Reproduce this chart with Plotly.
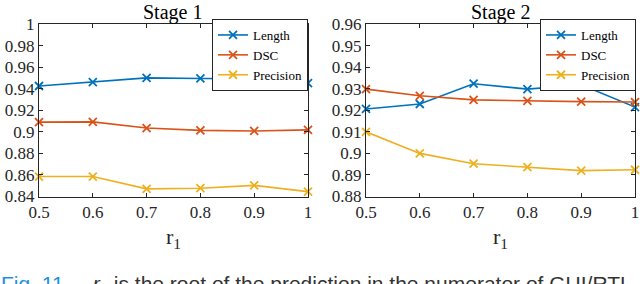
import plotly.graph_objects as go

r1 = [0.5, 0.6, 0.7, 0.8, 0.9, 1.0]

s1_length = [0.9425, 0.9460, 0.9500, 0.9495, 0.9492, 0.9452]
s1_dsc = [0.9090, 0.9092, 0.9035, 0.9013, 0.9008, 0.9018]
s1_precision = [0.8585, 0.8585, 0.8471, 0.8477, 0.8503, 0.8445]

s2_length = [0.9206, 0.9229, 0.9323, 0.9298, 0.9318, 0.9215]
s2_dsc = [0.9298, 0.9267, 0.9248, 0.9243, 0.9240, 0.9238]
s2_precision = [0.9100, 0.9000, 0.8952, 0.8936, 0.8920, 0.8924]

series_names = ["Length", "DSC", "Precision"]
colors = ["#0072BD", "#D95319", "#EDB120"]

SERIF = "Liberation Serif"

fig = go.Figure()

def add(xa, ya, ys, legend):
    for name, y, c in zip(series_names, ys, colors):
        fig.add_trace(go.Scatter(
            x=r1, y=y, name=name, mode="lines+markers",
            line=dict(color=c, width=1.6),
            marker=dict(symbol="x-thin", size=8, line=dict(color=c, width=1.8)),
            xaxis=xa, yaxis=ya, legend=legend, cliponaxis=False,
        ))

add("x", "y", [s1_length, s1_dsc, s1_precision], "legend")
add("x2", "y2", [s2_length, s2_dsc, s2_precision], "legend2")

W, H = 640, 284
ydom = [1 - 196.5 / H, 1 - 24 / H]
tickfont = dict(family=SERIF, size=17, color="#262626")
axcommon = dict(showgrid=False, zeroline=False, showline=True, linecolor="#262626",
                linewidth=1, mirror="ticks", ticks="inside", ticklen=4,
                tickcolor="#262626", tickfont=tickfont, automargin=False)
legfont = dict(family=SERIF, size=13, color="black")

fig.update_layout(
    template="none",
    width=W, height=H, margin=dict(l=0, r=0, t=0, b=0, pad=0),
    paper_bgcolor="white", plot_bgcolor="white",
    font=dict(family=SERIF, size=13, color="black"),
    xaxis=dict(domain=[39 / W, 308 / W], range=[0.5, 1.0], dtick=0.1, anchor="y", **axcommon),
    yaxis=dict(domain=ydom, range=[0.84, 1.0], dtick=0.02, anchor="x", **axcommon),
    xaxis2=dict(domain=[366 / W, 635 / W], range=[0.5, 1.0], dtick=0.1, anchor="y2", **axcommon),
    yaxis2=dict(domain=ydom, range=[0.88, 0.96], dtick=0.01, anchor="x2", **axcommon),
    legend=dict(x=308 / W, xanchor="right", y=1 - 19 / H, yanchor="top",
                bgcolor="white", bordercolor="#262626", borderwidth=1,
                font=legfont, tracegroupgap=0, itemwidth=30),
    legend2=dict(x=636 / W, xanchor="right", y=1 - 19 / H, yanchor="top",
                 bgcolor="white", bordercolor="#262626", borderwidth=1,
                 font=legfont, tracegroupgap=0, itemwidth=30),
)

titlefont = dict(family=SERIF, size=20, color="black")
fig.add_annotation(text="Stage 1", x=172 / W, y=1.0, xref="paper", yref="paper",
                   showarrow=False, font=titlefont, xanchor="center", yanchor="top", borderpad=0)
fig.add_annotation(text="Stage 2", x=500 / W, y=1.0, xref="paper", yref="paper",
                   showarrow=False, font=titlefont, xanchor="center", yanchor="top", borderpad=0)
labfont = dict(family=SERIF, size=22, color="#262626")
fig.add_annotation(text="r<sub>1</sub>", x=173 / W, y=1 - 238 / H, xref="paper", yref="paper",
                   showarrow=False, font=labfont, xanchor="center", yanchor="middle")
fig.add_annotation(text="r<sub>1</sub>", x=500 / W, y=1 - 238 / H, xref="paper", yref="paper",
                   showarrow=False, font=labfont, xanchor="center", yanchor="middle")
fig.add_annotation(
    text="<span style='color:#1E90E0'>Fig. 11.</span>    <i>r</i><sub>1</sub> is the root of the prediction in the numerator of GUI/RTL",
    x=0, y=1 - 271 / H, xref="paper", yref="paper", showarrow=False, align="left",
    font=dict(family="Liberation Sans", size=21, color="#333333"),
    xanchor="left", yanchor="top", borderpad=0)

fig.write_html("out.html", config={"displayModeBar": False},
               post_script="document.body.style.margin='0';")
